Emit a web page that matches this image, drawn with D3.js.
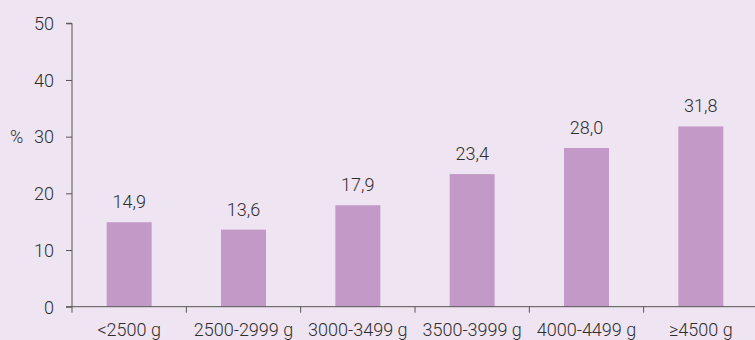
<!DOCTYPE html>
<html>
<head>
<meta charset="utf-8">
<script src="https://cdn.jsdelivr.net/npm/d3@7"></script>
<style>
  html, body { margin: 0; padding: 0; background: #efe4f1; }
  svg { display: block; }
  text { font-family: Roboto, "Liberation Sans", Arial, sans-serif; font-weight: 300; fill: #2e2e2e; }
</style>
</head>
<body>
<svg id="chart" width="755" height="340"></svg>
<script>
const categories = ["<2500 g", "2500-2999 g", "3000-3499 g", "3500-3999 g", "4000-4499 g", "≥4500 g"];
const values = [14.9, 13.6, 17.9, 23.4, 28.0, 31.8];
const yTicks = [0, 10, 20, 30, 40, 50];
const yLabel = "%";

(function () {
const FS = 18;
const FF = "Roboto, 'Liberation Sans', Arial, sans-serif";
const svg = d3.select("#chart");
const mLeft = 72, mRight = 758, mTop = 23.3, mBottom = 306.7;

const xOuter = d3.scaleBand().domain(categories).range([mLeft, mRight]);
const y = d3.scaleLinear().domain([0, 50]).range([mBottom, mTop]);

svg.append("rect").attr("width", 755).attr("height", 340).attr("fill", "#efe4f1");

// bars
svg.selectAll("rect.bar").data(values).enter().append("rect")
  .attr("class", "bar")
  .attr("x", (d, i) => xOuter(categories[i]) + xOuter.bandwidth() / 2 - 22.5)
  .attr("width", 45)
  .attr("y", d => y(d))
  .attr("height", d => y(0) - y(d))
  .attr("fill", "#c39ac7");

// value labels
svg.selectAll("text.val").data(values).enter().append("text")
  .attr("class", "val")
  .attr("x", (d, i) => xOuter(categories[i]) + xOuter.bandwidth() / 2)
  .attr("y", d => y(d) - 14)
  .attr("text-anchor", "middle")
  .style("font-size", FS + "px")
  .text(d => d.toFixed(1).replace(".", ","));

// y axis
const yAxis = d3.axisLeft(y).tickValues(yTicks).tickSize(6).tickPadding(12).tickFormat(d3.format("d"));
const gy = svg.append("g").attr("transform", `translate(${mLeft},0)`).call(yAxis);
gy.select(".domain").attr("stroke", "#555").attr("d", `M-6,${mTop}H0V${mBottom}`);
gy.selectAll(".tick line").attr("stroke", "#555");
gy.selectAll(".tick text").style("font-size", FS + "px").attr("fill", "#2e2e2e")
  .style("font-family", FF).style("font-weight", 300).attr("dy", "0.35em");

svg.append("text").attr("x", 10).attr("y", y(30)).attr("dy", "0.35em")
  .style("font-size", FS + "px").text(yLabel);

// x axis
const gx = svg.append("g").attr("transform", `translate(0,${mBottom})`);
gx.append("line").attr("x1", mLeft - 6).attr("x2", 755).attr("y1", 0).attr("y2", 0).attr("stroke", "#555");
gx.selectAll("line.tk").data(categories).enter().append("line")
  .attr("class", "tk")
  .attr("x1", d => xOuter(d)).attr("x2", d => xOuter(d))
  .attr("y1", 0).attr("y2", 6).attr("stroke", "#555");
gx.selectAll("text.cat").data(categories).enter().append("text")
  .attr("class", "cat")
  .attr("x", d => xOuter(d) + xOuter.bandwidth() / 2)
  .attr("y", 29.5)
  .attr("text-anchor", "middle")
  .style("font-size", FS + "px")
  .text(d => d);
})();
</script>
</body>
</html>
